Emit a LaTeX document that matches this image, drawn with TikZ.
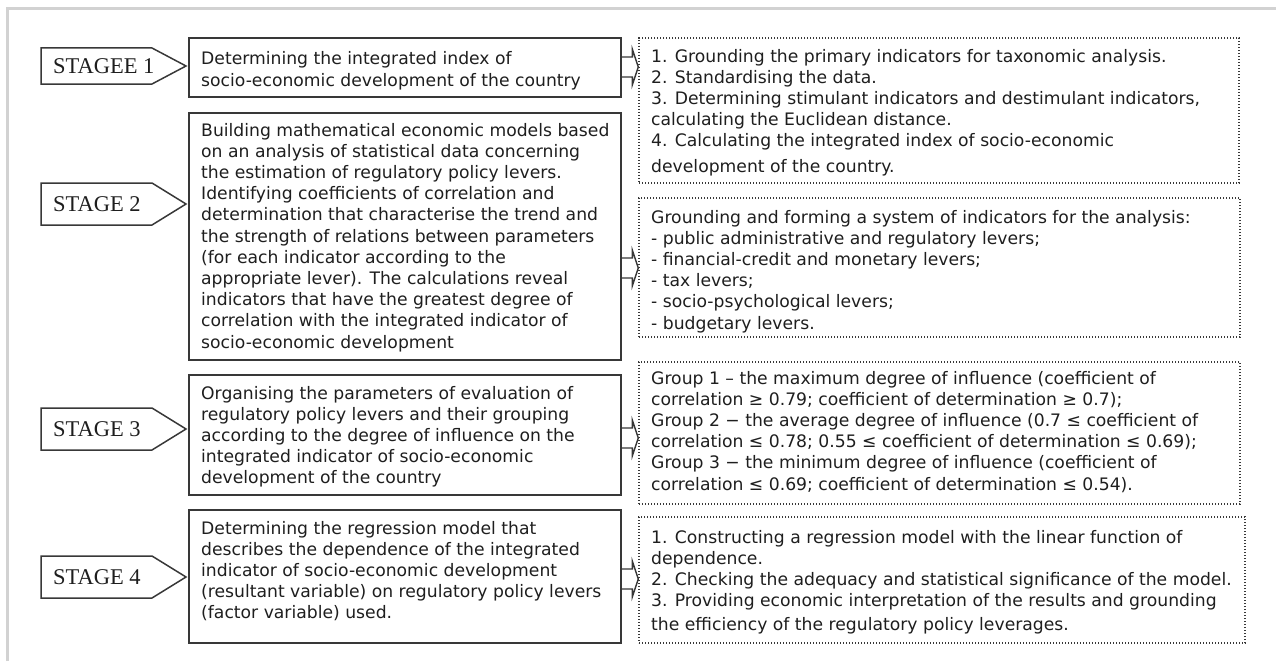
\documentclass[tikz,border=0pt]{standalone}
\usepackage{fontspec}
\setmainfont{DejaVu Sans}
\newfontfamily\stagefont{Liberation Serif}
\usetikzlibrary{calc}
\definecolor{boxc}{HTML}{383838}
\definecolor{txtc}{HTML}{1E1E1E}
\definecolor{framec}{HTML}{D2D2D2}
\newcommand\boxat[6]{%
  \node[#6, minimum width={#4-#2}, minimum height={#5-#3}] (#1) at ({(#2+#4)/2},{(#3+#5)/2}) {};}
\newcommand\stageat[4]{% name, top, bottom, text
  \draw[box] (41,#2) -- (152,#2) -- (186,{(#2+#3)/2}) -- (152,#3) -- (41,#3) -- cycle;
  \node[stg] (#1) at (53,{(#2+#3)/2}) {#4};}
\newcommand\linkit[3]{% from, to, centre y
  \coordinate (m#1) at (0,#3);
  \draw[conn] ($(#1.east |- m#1)+(0,-10)$) -| ($(#2.west |- m#1)+(-6,-18)$) -- (#2.west |- m#1)
     -- ($(#2.west |- m#1)+(-6,18)$) |- ($(#1.east |- m#1)+(0,10)$);}
\begin{document}
\begin{tikzpicture}[x=1pt,y=-1pt,
  box/.style={draw=boxc, line width=1.5pt, inner sep=0pt},
  dbox/.style={draw=boxc, line width=1.4pt, dash pattern=on 1.4pt off 1.6pt, inner sep=0pt},
  txt/.style={anchor=north west, inner sep=0pt, align=left, text=txtc,
              font=\fontsize{17.2}{21.2}\selectfont},
  stg/.style={anchor=west, inner sep=0pt, text=txtc, font=\stagefont\fontsize{22.5}{24}\selectfont},
  conn/.style={draw=boxc, line width=1.4pt, line join=miter},
  frameline/.style={draw=framec, line width=3pt}]
\useasboundingbox (0,0) rectangle (1276,661);
\draw[frameline] (7,661) -- (7,9) -- (1276,9);

% left boxes
\boxat{b1}{189}{38}{621}{97}{box}
\boxat{b2}{189}{113}{621}{360}{box}
\boxat{b3}{189}{375}{621}{495}{box}
\boxat{b4}{189}{510}{621}{643}{box}
% dotted boxes
\boxat{d1}{639}{38}{1239}{183}{dbox}
\boxat{d2}{639}{198}{1240}{337}{dbox}
\boxat{d3}{639}{362}{1240}{504}{dbox}
\boxat{d4}{639}{517}{1245}{643}{dbox}

% stage labels
\stageat{s1}{48}{84}{STAGEE 1}
\stageat{s2}{183}{225}{STAGE 2}
\stageat{s3}{408}{450}{STAGE 3}
\stageat{s4}{556}{598}{STAGE 4}

% texts
\node[txt] (t1) at (201,49) {\strut Determining the integrated index of\\[1.5pt]
socio-economic development of the country};
\node[txt] (t2) at (201,121) {\strut Building mathematical economic models based\\
on an analysis of statistical data concerning\\
the estimation of regulatory policy levers.\\
Identifying coefficients of correlation and\\
determination that characterise the trend and\\
the strength of relations between parameters\\
(for each indicator according to the\\
appropriate lever). The calculations reveal\\
indicators that have the greatest degree of\\
correlation with the integrated indicator of\\
socio-economic development};
\node[txt] (t3) at (201,384) {\strut Organising the parameters of evaluation of\\
regulatory policy levers and their grouping\\
according to the degree of influence on the\\
integrated indicator of socio-economic\\
development of the country};
\node[txt] (t4) at (201,519) {\strut Determining the regression model that\\
describes the dependence of the integrated\\
indicator of socio-economic development\\
(resultant variable) on regulatory policy levers\\
(factor variable) used.};

\node[txt] (u1) at (651,47) {\strut 1. Grounding the primary indicators for taxonomic analysis.\\
2. Standardising the data.\\
3. Determining stimulant indicators and destimulant indicators,\\
calculating the Euclidean distance.\\
4. Calculating the integrated index of socio-economic\\[4.8pt]
development of the country.};
\node[txt] (u2) at (651,208) {\strut Grounding and forming a system of indicators for the analysis:\\
- public administrative and regulatory levers;\\
- financial-credit and monetary levers;\\
- tax levers;\\
- socio-psychological levers;\\
- budgetary levers.};
\node[txt] (u3) at (651,369) {\strut Group 1 – the maximum degree of influence (coefficient of\\
correlation ≥ 0.79; coefficient of determination ≥ 0.7);\\
Group 2 − the average degree of influence (0.7 ≤ coefficient of\\
correlation ≤ 0.78; 0.55 ≤ coefficient of determination ≤ 0.69);\\
Group 3 − the minimum degree of influence (coefficient of\\
correlation ≤ 0.69; coefficient of determination ≤ 0.54).};
\node[txt] (u4) at (651,528) {\strut 1. Constructing a regression model with the linear function of\\
dependence.\\
2. Checking the adequacy and statistical significance of the model.\\
3. Providing economic interpretation of the results and grounding\\[3pt]
the efficiency of the regulatory policy leverages.};

% connectors
\linkit{b1}{d1}{67}
\linkit{b2}{d2}{268}
\linkit{b3}{d3}{438}
\linkit{b4}{d4}{579}
\end{tikzpicture}
\end{document}
